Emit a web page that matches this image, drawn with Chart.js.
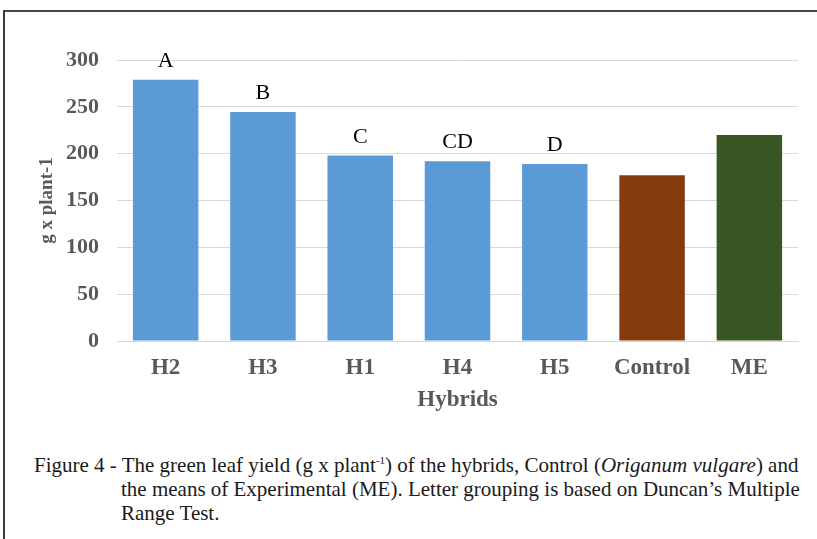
<!DOCTYPE html>
<html>
<head>
<meta charset="utf-8">
<script src="https://cdn.jsdelivr.net/npm/chart.js@4/dist/chart.umd.min.js"></script>
<style>
  html, body { margin: 0; padding: 0; background: #fff; }
  body { width: 817px; height: 539px; position: relative; overflow: hidden; }
  #c { position: absolute; left: 0; top: 0; }
  .bt { position: absolute; left: 4px; top: 10px; width: 813px; height: 2px; background: #474747; }
  .bl { position: absolute; left: 3px; top: 10px; width: 2px; height: 529px; background: #3a3a3a; }
  #cap { position: absolute; left: 121px; top: 453px; font-family: "Liberation Serif", "Times New Roman", serif;
         font-size: 21px; line-height: 24px; color: #1a1a1a; white-space: nowrap; text-indent: -87px; }
  #cap sup { font-size: 11px; vertical-align: 8px; line-height: 0; }
</style>
</head>
<body>
<canvas id="c" width="817" height="430"></canvas>
<div class="bt"></div>
<div class="bl"></div>
<div id="cap">Figure 4 - The green leaf yield (g x plant<sup>-1</sup>) of the hybrids, Control (<i>Origanum vulgare</i>) and<br>the means of Experimental (ME). Letter grouping is based on Duncan’s Multiple<br>Range Test.</div>
<script>
const categories = ['H2', 'H3', 'H1', 'H4', 'H5', 'Control', 'ME'];
const yieldValues = [279, 244.5, 198, 192, 189, 177, 220];
const groupLetters = ['A', 'B', 'C', 'CD', 'D', '', ''];
const yTicks = [0, 50, 100, 150, 200, 250, 300];
const barColors = ['#5B9BD5', '#5B9BD5', '#5B9BD5', '#5B9BD5', '#5B9BD5', '#843C0C', '#385723'];

const letterPlugin = {
  id: 'letters',
  afterDatasetsDraw(chart) {
    const meta = chart.getDatasetMeta(0);
    const ctx = chart.ctx;
    ctx.save();
    ctx.font = '22px "Liberation Serif"';
    ctx.fillStyle = '#000';
    ctx.textAlign = 'center';
    ctx.textBaseline = 'alphabetic';
    meta.data.forEach((bar, i) => {
      if (groupLetters[i]) ctx.fillText(groupLetters[i], bar.x, bar.y - 13);
    });
    ctx.restore();
  }
};

new Chart(document.getElementById('c'), {
  type: 'bar',
  data: {
    labels: categories,
    datasets: [{
      data: yieldValues,
      backgroundColor: barColors,
      borderWidth: 0,
      categoryPercentage: 1,
      barPercentage: 0.673
    }]
  },
  options: {
    responsive: false,
    devicePixelRatio: 1,
    animation: false,
    layout: { padding: { top: 60, right: 19, left: 0, bottom: 0 } },
    plugins: { legend: { display: false }, tooltip: { enabled: false } },
    scales: {
      x: {
        grid: { display: false, drawTicks: false },
        border: { display: true, color: '#d9d9d9', width: 1 },
        ticks: { color: '#595959', padding: 13, font: { family: 'Liberation Serif', size: 23, weight: 'bold' } },
        title: { display: true, text: 'Hybrids', color: '#595959', padding: { top: 0, bottom: 16 },
                 font: { family: 'Liberation Serif', size: 23, weight: 'bold' } },
        afterFit(s) { s.height = 89; }
      },
      y: {
        min: 0, max: 300,
        afterBuildTicks(s) { s.ticks = yTicks.map(v => ({ value: v })); },
        grid: { color: '#d9d9d9', lineWidth: 1, drawTicks: false },
        border: { display: false },
        ticks: { color: '#595959', padding: 18, font: { family: 'Liberation Serif', size: 22, weight: 'bold' } },
        title: { display: true, text: 'g x plant-1', color: '#595959', padding: { top: 36, bottom: 0 },
                 font: { family: 'Liberation Serif', size: 19, weight: 'bold' } },
        afterFit(s) { s.width = 117; }
      }
    }
  },
  plugins: [letterPlugin]
});
</script>
</body>
</html>
